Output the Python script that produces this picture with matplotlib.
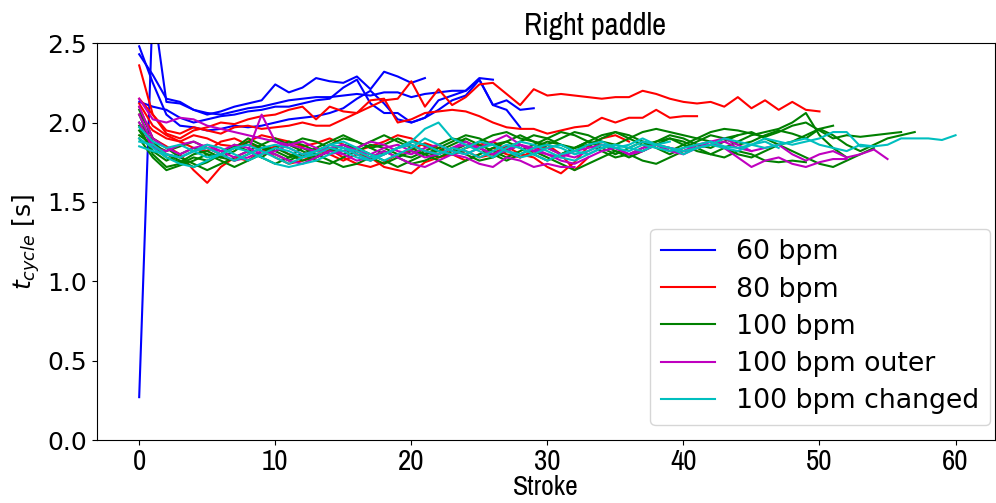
import matplotlib
matplotlib.use("Agg")
import matplotlib.pyplot as plt
from matplotlib import font_manager

title = "Right paddle"
xlabel = "Stroke"
ylabel = "$t_{cycle}$ [s]"
labels = ["60 bpm", "80 bpm", "100 bpm", "100 bpm outer", "100 bpm changed"]
colors = ["b", "r", "g", "m", "c"]

bpm60 = [
    [0.27, 2.75, 2.13, 2.12, 2.08, 2.06, 2.05, 2.07, 2.09, 2.10, 2.12, 2.14, 2.15, 2.16, 2.16, 2.17, 2.18, 2.17, 2.19, 2.19, 2.16, 2.18, 2.19, 2.20, 2.20, 2.28, 2.27],
    [2.43, 2.30, 2.15, 2.13, 2.08, 2.05, 2.07, 2.10, 2.12, 2.14, 2.24, 2.19, 2.22, 2.28, 2.26, 2.25, 2.29, 2.21, 2.32, 2.29, 2.25, 2.28],
    [2.48, 2.25, 2.05, 1.98, 1.97, 1.95, 1.96, 1.98, 1.97, 1.98, 2.00, 2.02, 2.03, 2.04, 2.06, 2.09, 2.15, 2.20, 2.12, 2.02, 2.00, 2.03, 2.14, 2.17, 2.20, 2.27, 2.11, 2.08, 1.97],
    [2.13, 2.10, 2.08, 2.03, 2.00, 2.02, 2.04, 2.05, 2.07, 2.08, 2.10, 2.10, 2.12, 2.14, 2.15, 2.22, 2.27, 2.12, 2.06, 2.06, 2.00, 2.03, 2.08, 2.14, 2.17, 2.27, 2.11, 2.14, 2.08, 2.09],
]

bpm80 = [
    [2.15, 2.05, 1.95, 1.93, 1.97, 1.95, 1.93, 1.97, 1.98, 1.96, 1.97, 1.98, 2.00, 1.98, 1.98, 2.02, 2.06, 2.10, 2.14, 2.15, 2.26, 2.10, 2.21, 2.11, 2.16, 2.24, 2.25, 2.18, 2.11, 2.21, 2.17, 2.18, 2.17, 2.16, 2.15, 2.16, 2.16, 2.20, 2.18, 2.15, 2.13, 2.12, 2.13, 2.10, 2.16, 2.09, 2.14, 2.08, 2.13, 2.08, 2.07],
    [2.36, 2.05, 1.93, 1.90, 1.95, 1.97, 2.00, 1.99, 2.02, 2.04, 2.05, 2.08, 2.10, 2.02, 2.10, 2.07, 2.06, 2.14, 2.15, 2.00, 2.02, 2.06, 2.07, 2.08, 2.07, 2.04, 2.00, 1.97, 1.96, 1.96, 1.93, 1.95, 1.97, 1.98, 2.03, 2.00, 2.03, 2.03, 2.08, 2.03, 2.04, 2.04],
    [2.10, 1.90, 1.85, 1.80, 1.70, 1.62, 1.72, 1.78, 1.76, 1.82, 1.85, 1.80, 1.78, 1.83, 1.80, 1.76, 1.80, 1.78, 1.72, 1.70, 1.68, 1.75, 1.78, 1.80, 1.82, 1.78, 1.80, 1.85, 1.80, 1.78, 1.72, 1.68, 1.75, 1.85, 1.90, 1.92, 1.88],
    [2.05, 1.95, 1.90, 1.88, 1.92, 1.90, 1.86, 1.85, 1.88, 1.92, 1.90, 1.88, 1.85, 1.87, 1.90, 1.86, 1.82, 1.85, 1.88, 1.92, 1.90, 1.85, 1.82, 1.80, 1.84, 1.86, 1.88, 1.83, 1.78, 1.82, 1.86, 1.80, 1.70, 1.78],
    [2.12, 1.98, 1.92, 1.88, 1.84, 1.82, 1.88, 1.90, 1.86, 1.84, 1.78, 1.74, 1.76, 1.80, 1.83, 1.78, 1.74, 1.72, 1.75, 1.80, 1.83, 1.87, 1.84, 1.80, 1.76, 1.80, 1.84, 1.80, 1.78, 1.82, 1.86],
]

bpm100 = [
    [2.05, 1.85, 1.78, 1.75, 1.80, 1.82, 1.78, 1.76, 1.80, 1.84, 1.82, 1.78, 1.80, 1.76, 1.74, 1.78, 1.82, 1.86, 1.84, 1.80, 1.78, 1.82, 1.86, 1.90, 1.88, 1.84, 1.80, 1.84, 1.88, 1.92, 1.90, 1.86, 1.84, 1.88, 1.92, 1.94, 1.90, 1.86, 1.88, 1.92, 1.90, 1.86, 1.84, 1.88, 1.92, 1.94, 1.90, 1.86, 1.88, 1.92, 1.96, 1.92, 1.86, 1.82, 1.86, 1.90, 1.92, 1.94],
    [1.98, 1.80, 1.72, 1.74, 1.78, 1.76, 1.80, 1.85, 1.82, 1.78, 1.84, 1.88, 1.86, 1.82, 1.86, 1.90, 1.88, 1.84, 1.80, 1.84, 1.88, 1.86, 1.82, 1.80, 1.84, 1.88, 1.92, 1.94, 1.90, 1.88, 1.86, 1.90, 1.94, 1.92, 1.88, 1.86, 1.90, 1.94, 1.96, 1.94, 1.92, 1.90, 1.94, 1.96, 1.95, 1.93, 1.91, 1.94, 1.98, 2.00, 1.95, 1.90, 1.92, 1.91, 1.92, 1.93, 1.94],
    [1.95, 1.82, 1.76, 1.80, 1.84, 1.80, 1.76, 1.72, 1.76, 1.80, 1.84, 1.80, 1.76, 1.78, 1.82, 1.86, 1.82, 1.78, 1.74, 1.78, 1.82, 1.80, 1.76, 1.72, 1.76, 1.80, 1.84, 1.88, 1.84, 1.80, 1.76, 1.80, 1.84, 1.86, 1.82, 1.78, 1.80, 1.84, 1.88, 1.90, 1.86, 1.82, 1.80, 1.84, 1.88, 1.92, 1.94, 1.96, 2.00, 2.06, 1.92, 1.84, 1.78],
    [2.00, 1.88, 1.80, 1.76, 1.72, 1.75, 1.80, 1.86, 1.82, 1.78, 1.74, 1.78, 1.84, 1.80, 1.76, 1.72, 1.74, 1.78, 1.82, 1.78, 1.74, 1.76, 1.80, 1.84, 1.80, 1.76, 1.78, 1.82, 1.86, 1.82, 1.78, 1.74, 1.70, 1.74, 1.78, 1.82, 1.80, 1.76, 1.74, 1.78, 1.82, 1.84, 1.80, 1.78, 1.82, 1.80, 1.76, 1.75, 1.76, 1.75],
    [1.92, 1.86, 1.82, 1.85, 1.88, 1.84, 1.80, 1.84, 1.90, 1.86, 1.82, 1.86, 1.90, 1.88, 1.84, 1.80, 1.84, 1.88, 1.92, 1.88, 1.84, 1.80, 1.82, 1.86, 1.90, 1.86, 1.82, 1.78, 1.82, 1.86, 1.90, 1.94, 1.92, 1.88, 1.84, 1.80, 1.84, 1.88, 1.86, 1.82, 1.86, 1.90, 1.88, 1.84, 1.80, 1.78, 1.82, 1.86, 1.82, 1.78, 1.74, 1.72, 1.76, 1.80, 1.84],
    [2.08, 1.90, 1.84, 1.78, 1.74, 1.70, 1.74, 1.78, 1.82, 1.86, 1.90, 1.86, 1.82, 1.78, 1.82, 1.86, 1.84, 1.80, 1.76, 1.72, 1.76, 1.80, 1.84, 1.88, 1.92, 1.90, 1.86, 1.88, 1.92, 1.88, 1.84, 1.80, 1.84, 1.88, 1.86, 1.82, 1.78, 1.82, 1.86, 1.90, 1.88, 1.84, 1.86, 1.90, 1.92],
    [1.90, 1.78, 1.70, 1.73, 1.76, 1.80, 1.78, 1.82, 1.88, 1.84, 1.80, 1.76, 1.80, 1.84, 1.88, 1.92, 1.88, 1.84, 1.86, 1.90, 1.86, 1.82, 1.78, 1.82, 1.86, 1.84, 1.80, 1.76, 1.80, 1.84, 1.88, 1.86, 1.82, 1.86, 1.90, 1.94, 1.92, 1.88, 1.84, 1.80, 1.84, 1.88, 1.92, 1.90, 1.86, 1.88, 1.92, 1.95, 1.93, 1.90, 1.96, 1.98],
]

bpm100_outer = [
    [2.15, 2.02, 2.00, 2.03, 2.02, 1.98, 1.96, 1.94, 1.92, 1.90, 1.88, 1.86, 1.84, 1.82, 1.84, 1.86, 1.82, 1.80, 1.84, 1.86, 1.82, 1.78, 1.80, 1.84, 1.86, 1.84, 1.80, 1.82, 1.86, 1.84, 1.80, 1.78, 1.82, 1.84, 1.86, 1.84, 1.80, 1.84, 1.86, 1.82, 1.80, 1.84, 1.88, 1.90, 1.86, 1.82, 1.84, 1.86, 1.80, 1.76, 1.80, 1.82, 1.78, 1.80, 1.83, 1.77],
    [2.10, 1.90, 1.84, 1.80, 1.84, 1.86, 1.82, 1.78, 1.82, 2.05, 1.88, 1.84, 1.80, 1.82, 1.86, 1.84, 1.80, 1.76, 1.80, 1.84, 1.86, 1.82, 1.80, 1.84, 1.88, 1.84, 1.80, 1.84, 1.86, 1.82, 1.84, 1.80, 1.78, 1.82, 1.86, 1.84, 1.80, 1.82, 1.86, 1.84, 1.82, 1.86, 1.88, 1.84, 1.78, 1.72, 1.76, 1.78, 1.74, 1.72, 1.75, 1.77, 1.77],
    [2.05, 1.86, 1.80, 1.78, 1.82, 1.84, 1.80, 1.76, 1.78, 1.82, 1.80, 1.76, 1.74, 1.78, 1.82, 1.80, 1.76, 1.78, 1.82, 1.78, 1.74, 1.72, 1.76, 1.80, 1.78, 1.74, 1.72, 1.78, 1.76, 1.72, 1.74, 1.72, 1.72],
    [2.00, 1.84, 1.82, 1.86, 1.88, 1.84, 1.82, 1.86, 1.84, 1.80, 1.82, 1.86, 1.88, 1.84, 1.80, 1.82, 1.84, 1.88, 1.86, 1.82, 1.80, 1.84, 1.86, 1.82, 1.80, 1.84, 1.88, 1.92, 1.86, 1.82, 1.80, 1.76, 1.74, 1.78, 1.82, 1.84, 1.80, 1.82, 1.86, 1.84, 1.82, 1.84, 1.86, 1.88, 1.84, 1.82],
]

bpm100_changed = [
    [1.85, 1.82, 1.80, 1.78, 1.82, 1.86, 1.84, 1.80, 1.76, 1.80, 1.84, 1.82, 1.78, 1.80, 1.84, 1.82, 1.78, 1.76, 1.80, 1.84, 1.88, 1.86, 1.82, 1.80, 1.84, 1.88, 1.86, 1.82, 1.80, 1.84, 1.86, 1.84, 1.80, 1.82, 1.86, 1.84, 1.82, 1.86, 1.84, 1.82, 1.84, 1.86, 1.88, 1.85, 1.84, 1.86, 1.90, 1.88, 1.86, 1.88, 1.90, 1.94, 1.94, 1.85, 1.85, 1.86, 1.90, 1.90, 1.90, 1.89, 1.92],
    [1.90, 1.84, 1.78, 1.74, 1.72, 1.76, 1.80, 1.84, 1.86, 1.82, 1.78, 1.74, 1.78, 1.82, 1.86, 1.84, 1.80, 1.76, 1.80, 1.84, 1.88, 1.96, 2.00, 1.90, 1.86, 1.82, 1.78, 1.84, 1.88, 1.86, 1.82, 1.78, 1.76, 1.80, 1.84, 1.86, 1.84, 1.88, 1.86, 1.84, 1.80, 1.84, 1.86, 1.84, 1.82, 1.86, 1.88, 1.84],
    [1.97, 1.88, 1.84, 1.86, 1.82, 1.78, 1.80, 1.84, 1.82, 1.78, 1.74, 1.72, 1.74, 1.76, 1.80, 1.84, 1.82, 1.78, 1.80, 1.84, 1.86, 1.82, 1.80, 1.84, 1.82, 1.78, 1.82, 1.86, 1.84, 1.80, 1.76, 1.80, 1.82, 1.86, 1.88, 1.84, 1.86, 1.90, 1.86, 1.84, 1.82, 1.84, 1.86, 1.90, 1.88, 1.86, 1.84, 1.86, 1.88, 1.90, 1.86, 1.84, 1.82, 1.86, 1.85],
    [1.88, 1.86, 1.80, 1.78, 1.82, 1.84, 1.80, 1.76, 1.80, 1.84, 1.86, 1.84, 1.80, 1.82, 1.86, 1.88, 1.84, 1.80, 1.76, 1.80, 1.84, 1.90, 1.86, 1.82, 1.80, 1.84, 1.86, 1.82, 1.78, 1.80, 1.84, 1.86, 1.82, 1.80, 1.84, 1.86, 1.84, 1.82, 1.86, 1.88],
]

groups = [bpm60, bpm80, bpm100, bpm100_outer, bpm100_changed]

# pick a narrow font for the x-axis texts if one is installed
narrow = None
for f in font_manager.fontManager.ttflist:
    if "Narrow" in f.name or "Condensed" in f.name:
        narrow = f.name
        break
narrow_kw = dict(family=narrow) if narrow else {}

fig = plt.figure(figsize=(9.96, 5.03), dpi=100)
ax = fig.add_axes([0.0974, 0.1252, 0.9016, 0.789])

for group, col, lab in zip(groups, colors, labels):
    for i, series in enumerate(group):
        ax.plot(range(len(series)), series, color=col, lw=1.5,
                label=lab if i == 0 else None)

ax.set_ylim(0, 2.5)
ax.set_xlim(-3.1, 62.9)
ax.set_xticks([0, 10, 20, 30, 40, 50, 60])
ax.set_yticks([0.0, 0.5, 1.0, 1.5, 2.0, 2.5])
ax.tick_params(axis="y", labelsize=18)
ax.tick_params(axis="x", labelsize=21, pad=2.5)
for t in ax.get_xticklabels():
    if narrow:
        t.set_family(narrow)
ax.set_title(title, fontsize=22, x=0.5546, **narrow_kw)
ax.set_xlabel(xlabel, fontsize=20, va="bottom", **narrow_kw)
ax.xaxis.set_label_coords(0.5, -0.152)
ax.set_ylabel(ylabel, fontsize=18)
ax.legend(loc="lower right", fontsize=19.3, labelspacing=0.42, borderaxespad=0,
          bbox_to_anchor=(0.9944, 0.0378))

fig.savefig("out.png", dpi=100)
